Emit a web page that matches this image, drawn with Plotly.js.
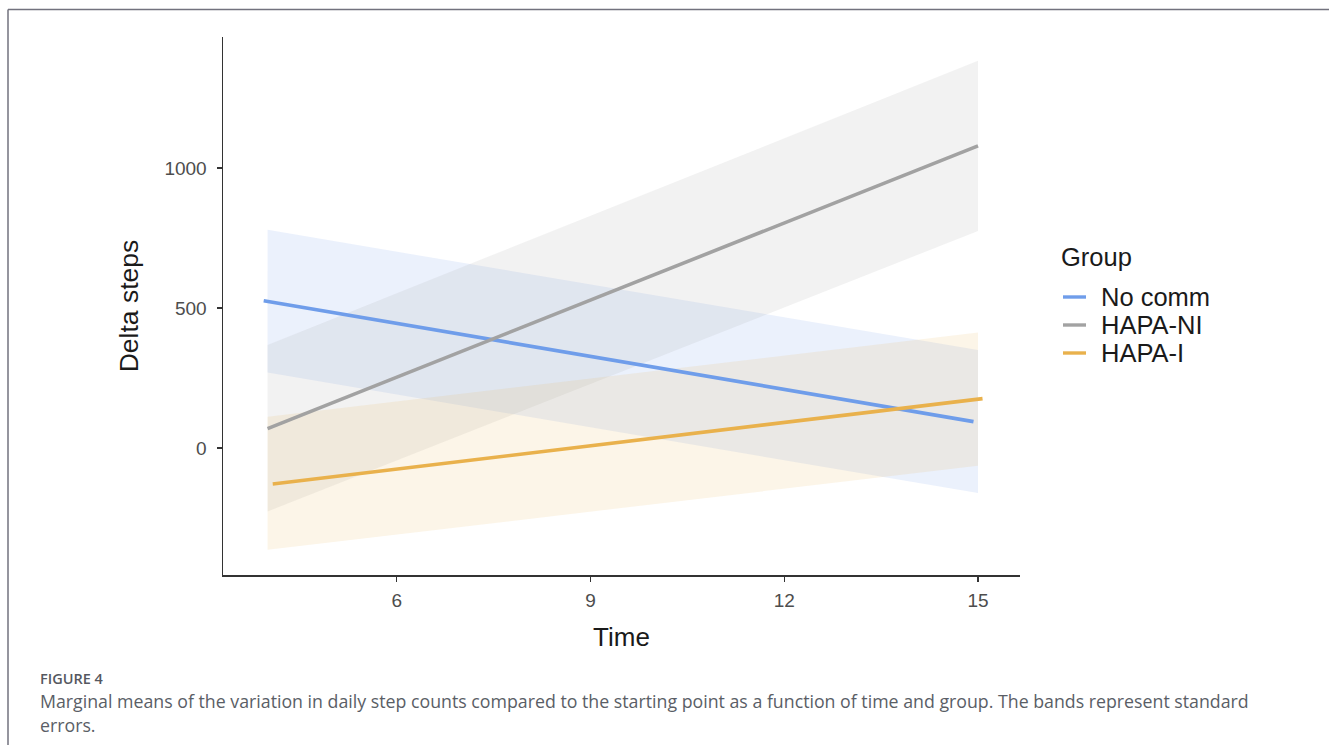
<!DOCTYPE html>
<html>
<head>
<meta charset="utf-8">
<script src="https://cdn.plot.ly/plotly-3.0.1.min.js"></script>
<style>
  html, body { margin: 0; padding: 0; background: #fff; }
  #chart { width: 1329px; height: 745px; }
</style>
</head>
<body>
<div id="chart"></div>
<script>
// ---- data ----
var groups = ["No comm", "HAPA-NI", "HAPA-I"];
var bandTime = [4, 15];
// fitted lines (slightly dodged horizontally as in the original)
var lineTimeNoComm = [3.94, 14.93];
var lineTimeHapaNI = [4.0, 15.0];
var lineTimeHapaI  = [4.08, 15.07];
var meanNoComm = [526, 94];
var meanHapaNI = [69, 1079];
var meanHapaI  = [-129, 176];
// standard-error bands
var upperNoComm = [779, 350];
var lowerNoComm = [269, -161];
var upperHapaNI = [368, 1383];
var lowerHapaNI = [-227, 775];
var upperHapaI  = [111, 412];
var lowerHapaI  = [-364, -64];
var xTicks = [6, 9, 12, 15];
var yTicks = [0, 500, 1000];

var lineColors = ["#6F9DEA", "#A2A2A2", "#E9B14C"];
var bandColors = ["rgba(111,157,234,0.14)", "rgba(162,162,162,0.14)", "rgba(233,177,76,0.13)"];

var lineX = [lineTimeNoComm, lineTimeHapaNI, lineTimeHapaI];
var means = [meanNoComm, meanHapaNI, meanHapaI];
var uppers = [upperNoComm, upperHapaNI, upperHapaI];
var lowers = [lowerNoComm, lowerHapaNI, lowerHapaI];

var traces = [];
// bands
for (var i = 0; i < groups.length; i++) {
  var bx = bandTime.concat(bandTime.slice().reverse());
  var by = uppers[i].concat(lowers[i].slice().reverse());
  traces.push({
    x: bx, y: by, type: "scatter", mode: "lines",
    fill: "toself", fillcolor: bandColors[i],
    line: {width: 0, color: bandColors[i]},
    hoverinfo: "skip", showlegend: false
  });
}
// lines
for (var j = 0; j < groups.length; j++) {
  traces.push({
    x: lineX[j], y: means[j], type: "scatter", mode: "lines",
    name: groups[j],
    line: {color: lineColors[j], width: 3.6},
    showlegend: false
  });
}

var W = 1329, H = 745;
var L = 223, R = 1020, T = 37, B = 575;
function px(x) { return (x - L) / (R - L); }
function py(y) { return (B - y) / (B - T); }

var SANS = "Liberation Sans, Arial, sans-serif";
var axisFont = {family: SANS, size: 19, color: "#4D4D4D"};

var shapes = [
  {type: "line", xref: "paper", yref: "paper", x0: px(8), x1: px(1335), y0: py(9.5), y1: py(9.5),
   line: {color: "#72727E", width: 1.5}},
  {type: "line", xref: "paper", yref: "paper", x0: px(8), x1: px(8), y0: py(9.5), y1: py(750),
   line: {color: "#72727E", width: 1.5}}
];
var annotations = [
  {xref: "paper", yref: "paper", x: px(38), y: py(678), xanchor: "left", yanchor: "middle",
   text: "FIGURE 4", showarrow: false,
   font: {family: "Open Sans, Noto Sans, sans-serif", size: 14.5, weight: 600, color: "#55585f"}},
  {xref: "paper", yref: "paper", x: px(38), y: py(701), xanchor: "left", yanchor: "middle",
   text: "Marginal means of the variation in daily step counts compared to the starting point as a function of time and group. The bands represent standard",
   showarrow: false,
   font: {family: "Open Sans, Noto Sans, sans-serif", size: 17.75, color: "#5a5e66"}},
  {xref: "paper", yref: "paper", x: px(38), y: py(725), xanchor: "left", yanchor: "middle",
   text: "errors.", showarrow: false,
   font: {family: "Open Sans, Noto Sans, sans-serif", size: 17.75, color: "#5a5e66"}},
  // legend title
  {xref: "paper", yref: "paper", x: px(1059), y: py(257), xanchor: "left", yanchor: "middle",
   text: "Group", showarrow: false,
   font: {family: SANS, size: 25.5, color: "#1a1a1a"}}
];
// manual legend entries
var legendY = [297, 325, 353];
for (var k = 0; k < groups.length; k++) {
  shapes.push({type: "line", xref: "paper", yref: "paper",
    x0: px(1063), x1: px(1086), y0: py(legendY[k]), y1: py(legendY[k]),
    line: {color: lineColors[k], width: 3.4}});
  annotations.push({xref: "paper", yref: "paper", x: px(1099), y: py(legendY[k]),
    xanchor: "left", yanchor: "middle", text: groups[k], showarrow: false,
    font: {family: SANS, size: 25.5, color: "#1a1a1a"}});
}

var layout = {
  width: W, height: H,
  paper_bgcolor: "#ffffff", plot_bgcolor: "#ffffff",
  margin: {l: L, r: W - R, t: T, b: H - B, pad: 0},
  showlegend: false,
  xaxis: {
    range: [3.31, 15.65],
    tickvals: xTicks, ticktext: xTicks.map(String),
    showgrid: false, zeroline: false,
    showline: true, linecolor: "#333333", linewidth: 1.5,
    ticks: "outside", ticklen: 5, tickwidth: 1.5, tickcolor: "#333333",
    tickfont: axisFont, ticklabelstandoff: 3,
    title: {text: "Time", font: {family: SANS, size: 26, color: "#1a1a1a"}, standoff: 17}
  },
  yaxis: {
    range: [-454, 1468],
    tickvals: yTicks, ticktext: yTicks.map(String),
    showgrid: false, zeroline: false,
    showline: true, linecolor: "#333333", linewidth: 1.5,
    ticks: "outside", ticklen: 5, tickwidth: 1.5, tickcolor: "#333333",
    tickfont: axisFont, ticklabelstandoff: 6,
    title: {text: "Delta steps", font: {family: SANS, size: 26.5, color: "#1a1a1a"}, standoff: 18}
  },
  shapes: shapes,
  annotations: annotations
};

Plotly.newPlot("chart", traces, layout, {displayModeBar: false, staticPlot: true});
</script>
</body>
</html>
